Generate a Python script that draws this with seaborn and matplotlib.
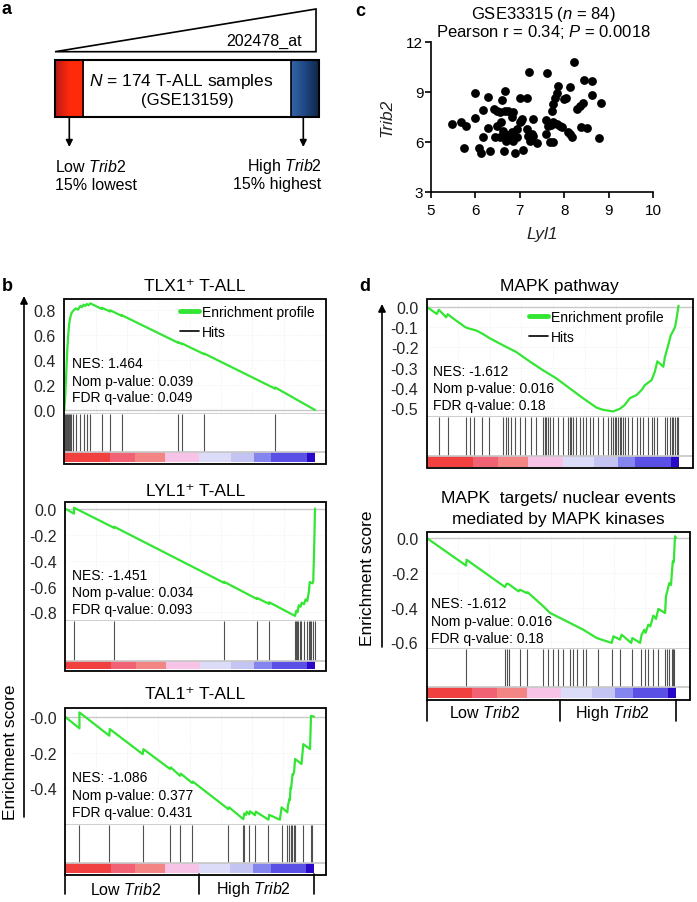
import numpy as np
import matplotlib
matplotlib.use("Agg")
import matplotlib.pyplot as plt
import seaborn as sns
from matplotlib.patches import Polygon, Rectangle
from matplotlib.lines import Line2D
from matplotlib.colors import LinearSegmentedColormap

sns.set_theme(style="white")
plt.rcParams["font.family"] = ["Liberation Sans", "DejaVu Sans"]
plt.rcParams["mathtext.fontset"] = "custom"
plt.rcParams["mathtext.rm"] = "Liberation Sans"
plt.rcParams["mathtext.it"] = "Liberation Sans:italic"
plt.rcParams["text.color"] = "black"

GREEN = "#33e633"
W, H = 697, 903

# ---- panel c: GSE33315 scatter (Lyl1 vs Trib2)
lyl1 = [5.47, 5.67, 5.79, 5.74, 5.99, 5.99, 6.09, 6.12, 6.18, 6.16, 6.29, 6.29, 6.34, 6.42,
        6.44, 6.59, 6.66, 6.49, 6.55, 6.66, 6.74, 6.85, 6.58, 6.62, 6.55, 6.66, 6.78, 6.82,
        6.70, 6.85, 6.93, 6.93, 7.00, 7.04, 7.00, 7.17, 7.16, 7.19, 7.23, 7.30, 7.30, 7.38,
        7.21, 7.08, 6.89, 6.64, 7.62, 7.60, 7.64, 7.60, 7.68, 7.75, 7.72, 7.75, 7.79, 7.83,
        7.87, 7.74, 7.83, 7.91, 8.00, 8.05, 8.13, 8.09, 8.17, 8.21, 8.28, 8.35, 8.42, 8.37,
        8.51, 8.45, 8.62, 8.62, 8.84, 8.79, 6.83, 6.72, 7.03, 7.28, 7.70, 7.95, 8.13, 6.48]
trib2 = [7.08, 7.18, 6.94, 5.63, 8.95, 7.42, 5.63, 5.37, 7.94, 6.28, 8.69, 6.82, 5.47, 7.98,
         6.28, 8.52, 9.08, 7.88, 7.78, 7.88, 7.88, 7.78, 7.18, 6.67, 6.28, 6.28, 6.28, 6.58,
         6.07, 6.07, 6.28, 6.78, 7.18, 7.38, 8.63, 8.63, 6.78, 6.38, 6.07, 7.38, 6.38, 5.93,
         10.19, 5.53, 5.33, 5.47, 10.13, 7.32, 6.98, 6.48, 5.98, 5.98, 7.88, 8.28, 8.63, 8.95,
         9.35, 7.18, 7.08, 6.94, 8.58, 8.63, 9.29, 6.58, 6.28, 10.80, 7.98, 8.18, 8.34, 6.88,
         6.82, 9.75, 9.69, 8.83, 8.34, 6.22, 7.48, 6.45, 7.25, 6.50, 7.05, 6.92, 6.48, 6.95]

# ---- ranked-list colour bar (segment edges as fraction of the list)
bar_edges = [0.0, 0.183, 0.283, 0.403, 0.539, 0.664, 0.757, 0.826, 0.968, 1.0]
bar_colors = ["#f04040", "#f26275", "#f48585", "#f7c3e6", "#dcdcf8",
              "#c4c4f2", "#8585f0", "#5a50e6", "#2a08c8"]

# ---- panel b: TLX1+ T-ALL
tlx1_x = [0.000, 0.004, 0.008, 0.011, 0.015, 0.019, 0.023, 0.028, 0.035, 0.046, 0.055, 0.064,
          0.070, 0.077, 0.084, 0.090, 0.097, 0.104, 0.150, 0.150, 0.183, 0.183, 0.230, 0.230,
          0.455, 0.455, 0.470, 0.470, 0.558, 0.558, 0.841, 0.841, 1.000]
tlx1_y = [0.00, 0.12, 0.30, 0.45, 0.58, 0.68, 0.73, 0.77, 0.79, 0.81, 0.80, 0.83,
          0.82, 0.84, 0.83, 0.845, 0.835, 0.85, 0.805, 0.815, 0.785, 0.795, 0.750, 0.755,
          0.535, 0.540, 0.525, 0.530, 0.445, 0.450, 0.170, 0.180, 0.000]
tlx1_hits = [0.004, 0.008, 0.011, 0.015, 0.019, 0.023, 0.028, 0.035, 0.046, 0.064, 0.077,
             0.090, 0.104, 0.150, 0.183, 0.230, 0.455, 0.470, 0.558, 0.841]

# ---- panel b: LYL1+ T-ALL
lyl1_x = [0.000, 0.036, 0.036, 0.197, 0.197, 0.636, 0.636, 0.767, 0.767, 0.817, 0.817, 0.920,
          0.925, 0.930, 0.935, 0.942, 0.947, 0.956, 0.962, 0.969, 0.975, 0.979, 0.990, 0.993,
          0.997, 1.000]
lyl1_y = [0.005, -0.034, 0.012, -0.145, -0.136, -0.571, -0.563, -0.696, -0.688, -0.735, -0.722,
          -0.828, -0.787, -0.800, -0.745, -0.757, -0.725, -0.737, -0.700, -0.712, -0.648,
          -0.565, -0.575, -0.560, -0.280, 0.005]
lyl1_hits = [0.036, 0.197, 0.636, 0.767, 0.817, 0.920, 0.924, 0.929, 0.933, 0.940, 0.944,
             0.956, 0.967, 0.975, 0.980, 0.984, 0.993, 0.999]

# ---- panel b: TAL1+ T-ALL
tal1_x = [0.000, 0.058, 0.058, 0.178, 0.180, 0.312, 0.315, 0.422, 0.425, 0.462, 0.465, 0.511,
          0.513, 0.656, 0.659, 0.716, 0.720, 0.727, 0.730, 0.740, 0.743, 0.763, 0.766, 0.817,
          0.820, 0.863, 0.870, 0.893, 0.895, 0.901, 0.903, 0.906, 0.908, 0.914, 0.916, 0.920,
          0.924, 0.950, 0.957, 0.984, 0.988, 1.000]
tal1_y = [0.000, -0.065, 0.024, -0.106, -0.069, -0.209, -0.181, -0.292, -0.283, -0.330, -0.318,
          -0.370, -0.362, -0.516, -0.506, -0.572, -0.540, -0.548, -0.530, -0.545, -0.528, -0.550,
          -0.530, -0.575, -0.548, -0.575, -0.506, -0.534, -0.500, -0.460, -0.465, -0.395, -0.400,
          -0.320, -0.325, -0.310, -0.236, -0.264, -0.153, -0.181, 0.005, 0.000]
tal1_hits = [0.058, 0.178, 0.312, 0.422, 0.462, 0.511, 0.656, 0.716, 0.720, 0.740, 0.763,
             0.817, 0.870, 0.893, 0.901, 0.906, 0.912, 0.920, 0.924, 0.957, 0.986, 0.990]

# ---- panel d: MAPK pathway
mapk_x = [0.000, 0.040, 0.048, 0.077, 0.083, 0.116, 0.153, 0.163, 0.196, 0.222, 0.249, 0.302,
          0.354, 0.407, 0.460, 0.513, 0.566, 0.619, 0.672, 0.698, 0.738, 0.765, 0.784, 0.804,
          0.831, 0.851, 0.864, 0.890, 0.903, 0.913, 0.937, 0.943, 0.956, 0.966, 0.983, 0.989,
          0.997]
mapk_y = [0.000, -0.036, -0.015, -0.052, -0.037, -0.068, -0.101, -0.106, -0.117, -0.134,
          -0.155, -0.190, -0.223, -0.269, -0.313, -0.353, -0.402, -0.451, -0.497, -0.508,
          -0.516, -0.503, -0.484, -0.451, -0.435, -0.410, -0.386, -0.362, -0.321, -0.269,
          -0.296, -0.248, -0.190, -0.142, -0.101, -0.060, 0.005]
mapk_hits = [0.048, 0.083, 0.156, 0.172, 0.189, 0.220, 0.246, 0.302, 0.312, 0.321, 0.335,
             0.348, 0.368, 0.388, 0.414, 0.434, 0.460, 0.467, 0.474, 0.480, 0.487, 0.500,
             0.520, 0.540, 0.560, 0.566, 0.573, 0.579, 0.593, 0.606, 0.619, 0.632, 0.646,
             0.659, 0.679, 0.698, 0.718, 0.731, 0.738, 0.745, 0.751, 0.758, 0.765, 0.771,
             0.778, 0.784, 0.798, 0.811, 0.831, 0.844, 0.857, 0.877, 0.890, 0.899, 0.910,
             0.943, 0.952, 0.963, 0.970, 0.976, 0.983, 0.989, 0.996]

# ---- panel d: MAPK targets / nuclear events
tgt_x = [0.000, 0.158, 0.160, 0.314, 0.321, 0.332, 0.368, 0.374, 0.401, 0.405, 0.468, 0.495,
         0.548, 0.628, 0.682, 0.742, 0.749, 0.775, 0.782, 0.820, 0.825, 0.856, 0.862, 0.873,
         0.878, 0.889, 0.897, 0.909, 0.920, 0.929, 0.956, 0.960, 0.973, 0.980, 0.987, 0.991,
         0.996, 1.000]
tgt_y = [0.000, -0.159, -0.125, -0.282, -0.262, -0.268, -0.307, -0.297, -0.316, -0.312,
         -0.393, -0.431, -0.469, -0.527, -0.575, -0.603, -0.565, -0.584, -0.556, -0.603,
         -0.575, -0.603, -0.556, -0.527, -0.545, -0.498, -0.508, -0.446, -0.465, -0.408,
         -0.431, -0.335, -0.259, -0.270, -0.134, -0.140, 0.010, 0.000]
tgt_hits = [0.158, 0.314, 0.324, 0.332, 0.374, 0.401, 0.465, 0.488, 0.508, 0.528, 0.548,
            0.575, 0.586, 0.602, 0.628, 0.639, 0.688, 0.742, 0.775, 0.822, 0.858, 0.876,
            0.889, 0.906, 0.929, 0.956, 0.963, 0.973, 0.983, 0.987, 0.992]


fig = plt.figure(figsize=(W / 100, H / 100), dpi=100)

ov = fig.add_axes([0, 0, 1, 1])
ov.set_zorder(10)
ov.patch.set_visible(False)


def px_axes(l, t, r, b):
    """axes placed by pixel box (left, top, right, bottom)"""
    return fig.add_axes([l / W, 1 - b / H, (r - l) / W, (b - t) / H])


def gsea(box, sep, bar_top, end_x, es_x, es_y, hits, ylim, yticks, ylabels,
         title, title_y, legend_at=None):
    l, t, r, b = box
    xmax = (r - l) / (end_x - l)
    ax_es = px_axes(l, t, r, sep)
    ax_hit = px_axes(l, sep, r, bar_top)
    ax_bar = px_axes(l, bar_top, r, b)
    for a in (ax_es, ax_hit, ax_bar):
        a.set_xlim(0, xmax)
        for s in a.spines.values():
            s.set_visible(False)
    ax_es.spines["bottom"].set_visible(True)
    ax_es.spines["bottom"].set_color("#c8c8c8")
    ax_bar.spines["top"].set_visible(True)
    ax_bar.spines["top"].set_color("#c8c8c8")

    # enrichment curve
    ax_es.axhline(0, color="#c8c8c8", lw=1.0, zorder=1)
    sns.lineplot(x=es_x, y=es_y, ax=ax_es, color=GREEN, linewidth=1.6,
                 sort=False, estimator=None, zorder=3)
    ax_es.set_ylim(*ylim)
    ax_es.set_xticks(np.linspace(0, 1, 9)[1:-1])
    ax_es.set_xticklabels([])
    ax_es.set_yticks(yticks)
    ax_es.set_yticklabels(ylabels)
    ax_es.grid(True, color="#ececec", lw=0.6, ls=":")
    ax_es.tick_params(axis="both", length=0, labelsize=11.5, pad=6,
                      labelleft=True, labelbottom=False)
    ax_es.set_xlabel("")
    ax_es.set_ylabel("")

    # hits
    ax_hit.vlines(hits, 0, 1, color="#505050", lw=0.8)
    ax_hit.set_ylim(0, 1)
    ax_hit.set_xticks([])
    ax_hit.set_yticks([])

    # ranked list colour bar
    for x0, x1, c in zip(bar_edges[:-1], bar_edges[1:], bar_colors):
        ax_bar.axvspan(x0, x1, ymin=0.15, ymax=1.0, color=c, lw=0)
    ax_bar.set_xticks([])
    ax_bar.set_yticks([])

    ov.add_patch(Rectangle((l, t), r - l, b - t, fill=False, lw=1.3, ec="black"))
    for i, line in enumerate(title):
        ov.text((l + r) / 2, title_y + i * 21, line, ha="center", va="center", fontsize=12.5)
    if legend_at is not None:
        hx, hy = legend_at
        handles = [Line2D([], [], color=GREEN, lw=3.5), Line2D([], [], color="black", lw=1.2)]
        ax_es.legend(handles, ["Enrichment profile", "Hits"], loc="upper left",
                     bbox_to_anchor=(hx / W, 1 - hy / H), bbox_transform=fig.transFigure,
                     frameon=False, fontsize=10, handlelength=1.4, handletextpad=0.15,
                     borderpad=0, borderaxespad=0, labelspacing=0.45)
    return ax_es


def stats(x, ys, lines):
    for y, s in zip(ys, lines):
        ov.text(x, y, s, ha="left", va="center", fontsize=10)


# ---------------- panel b
gsea((64.3, 300, 326, 465), 415, 453.3, 315, tlx1_x, tlx1_y, tlx1_hits,
     (-0.032, 0.885), [0.0, 0.2, 0.4, 0.6, 0.8], ["0.0", "0.2", "0.4", "0.6", "0.8"],
     ["TLX1\u207a T-ALL"], 286.7, legend_at=(180, 305.5))
stats(72.5, [364, 381.7, 398.3], ["NES: 1.464", "Nom p-value: 0.039", "FDR q-value: 0.049"])

gsea((65, 503.3, 325.5, 672), 621.7, 661.7, 315, lyl1_x, lyl1_y, lyl1_hits,
     (-0.865, 0.054), [0.0, -0.2, -0.4, -0.6, -0.8], ["0.0", "-0.2", "-0.4", "-0.6", "-0.8"],
     ["LYL1\u207a T-ALL"], 491.7)
stats(72.5, [576, 593.3, 610], ["NES: -1.451", "Nom p-value: 0.034", "FDR q-value: 0.093"])

gsea((65, 709.3, 325.5, 875.5), 825.7, 864, 314, tal1_x, tal1_y, tal1_hits,
     (-0.603, 0.047), [0.0, -0.2, -0.4], ["-0.0", "-0.2", "-0.4"],
     ["TAL1\u207a T-ALL"], 695)
stats(72.5, [778.3, 796, 813.3], ["NES: -1.086", "Nom p-value: 0.377", "FDR q-value: 0.431"])

# ---------------- panel d
gsea((426.7, 300, 692.7, 469.3), 418.3, 457.3, 679.3, mapk_x, mapk_y, mapk_hits,
     (-0.545, 0.038), [0.0, -0.1, -0.2, -0.3, -0.4, -0.5],
     ["0.0", "-0.1", "-0.2", "-0.3", "-0.4", "-0.5"],
     ["MAPK pathway"], 287, legend_at=(529, 311))
stats(432.7, [371.7, 389.3, 405.7], ["NES: -1.612", "Nom p-value: 0.016", "FDR q-value: 0.18"])

gsea((426.7, 532.7, 690, 701), 650, 688, 676, tgt_x, tgt_y, tgt_hits,
     (-0.638, 0.036), [0.0, -0.2, -0.4, -0.6], ["0.0", "-0.2", "-0.4", "-0.6"],
     ["MAPK  targets/ nuclear events", "mediated by MAPK kinases"], 498.3)
stats(431, [604, 621.7, 639], ["NES: -1.612", "Nom p-value: 0.016", "FDR q-value: 0.18"])

# brackets under the bottom GSEA plots
for xs, y0, y1, ty, centers in [((65, 199, 314), 875.5, 895, 890, (126, 253)),
                                ((426.7, 560, 676), 701, 722, 713.3, (485, 612))]:
    for x in xs:
        ov.plot([x, x], [y0, y1], color="black", lw=1.2)
    ov.text(centers[0], ty, r"Low $\mathit{Trib2}$", ha="center", va="center", fontsize=11.5)
    ov.text(centers[1], ty, r"High $\mathit{Trib2}$", ha="center", va="center", fontsize=11.5)

# shared y-axis arrows with label
for x, y_tip, y_end, lx, ly in [(24, 297, 818, 11, 752), (382, 305, 648, 368, 578)]:
    ov.annotate("", xy=(x, y_tip), xytext=(x, y_end),
                arrowprops=dict(arrowstyle="-|>", color="black", lw=1.2, mutation_scale=11,
                                shrinkA=0, shrinkB=0))
    ov.text(lx, ly, "Enrichment score", rotation=90, ha="center", va="center", fontsize=12.5)

# ---------------- panel c: scatter
ax_c = px_axes(431, 43, 653, 193)
sns.scatterplot(x=lyl1, y=trib2, ax=ax_c, color="black", s=40, linewidth=0)
ax_c.set_xlim(5, 10)
ax_c.set_ylim(3, 12)
ax_c.set_xticks([5, 6, 7, 8, 9, 10])
ax_c.set_yticks([3, 6, 9, 12])
sns.despine(ax=ax_c)
for s in ("left", "bottom"):
    ax_c.spines[s].set_color("black")
    ax_c.spines[s].set_linewidth(1.2)
ax_c.tick_params(direction="out", length=4, width=1.2, labelsize=11, colors="black",
                 bottom=True, left=True)
ax_c.tick_params(axis="x", pad=4)
ax_c.tick_params(axis="y", pad=1.5)
ax_c.set_xlabel("Lyl1", style="italic", fontsize=12.5)
ax_c.set_ylabel("Trib2", style="italic", fontsize=12.5)
ax_c.xaxis.set_label_coords(0.5, -0.225)
ax_c.yaxis.set_label_coords(-0.165, 0.5)
ov.text(543, 15, r"GSE33315 ($\mathit{n}$ = 84)", ha="center", va="center", fontsize=12)
ov.text(543, 31.7, r"Pearson r = 0.34; $\mathit{P}$ = 0.0018", ha="center", va="center",
        fontsize=12)

# ---------------- panel a: schematic
ov.add_patch(Polygon([(55, 52.7), (316, 10), (316, 52.7)], closed=True, fill=False,
                     lw=1.2, ec="black"))
ov.text(301.7, 41.7, "202478_at", ha="right", va="center", fontsize=11.5)
grad = np.linspace(0, 1, 64)[None, :]
red_cmap = LinearSegmentedColormap.from_list("red", ["#b81a1a", "#ff2a0a", "#ff2a0a"])
blue_cmap = LinearSegmentedColormap.from_list("blue", ["#3566aa", "#1e4682", "#0e2444"])
ov.imshow(grad, extent=(55, 83.3, 118.3, 61), cmap=red_cmap, aspect="auto", zorder=1)
ov.imshow(grad, extent=(291, 319.3, 118.3, 61), cmap=blue_cmap, aspect="auto", zorder=1)
ov.add_patch(Rectangle((55, 61), 264.3, 57.3, fill=False, lw=1.5, ec="black", zorder=3))
ov.plot([83.3, 83.3], [61, 118.3], color="black", lw=1.2, zorder=3)
ov.plot([291, 291], [61, 118.3], color="black", lw=1.2, zorder=3)
ov.text(181.7, 81.7, r"$\mathit{N}$ = 174 T-ALL samples", ha="center", va="center",
        fontsize=12.5)
ov.text(187, 100, "(GSE13159)", ha="center", va="center", fontsize=12)
for x in (69.3, 303.3):
    ov.annotate("", xy=(x, 148), xytext=(x, 118.3),
                arrowprops=dict(arrowstyle="-|>", color="black", lw=1.2, mutation_scale=10,
                                shrinkA=0, shrinkB=0))
ov.text(55, 166.7, r"Low $\mathit{Trib2}$", ha="left", va="center", fontsize=11.5)
ov.text(55, 185, "15% lowest", ha="left", va="center", fontsize=11.5)
ov.text(321.7, 166.7, r"High $\mathit{Trib2}$", ha="right", va="center", fontsize=11.5)
ov.text(321.7, 185, "15% highest", ha="right", va="center", fontsize=11.5)

# panel letters
for lbl, x, y in [("a", 7, 10), ("b", 7, 287), ("c", 360, 11), ("d", 365, 287)]:
    ov.text(x, y, lbl, ha="center", va="center", fontsize=13, fontweight="bold")

ov.set_xlim(0, W)
ov.set_ylim(H, 0)
ov.axis("off")

fig.savefig("out.png", dpi=100)
